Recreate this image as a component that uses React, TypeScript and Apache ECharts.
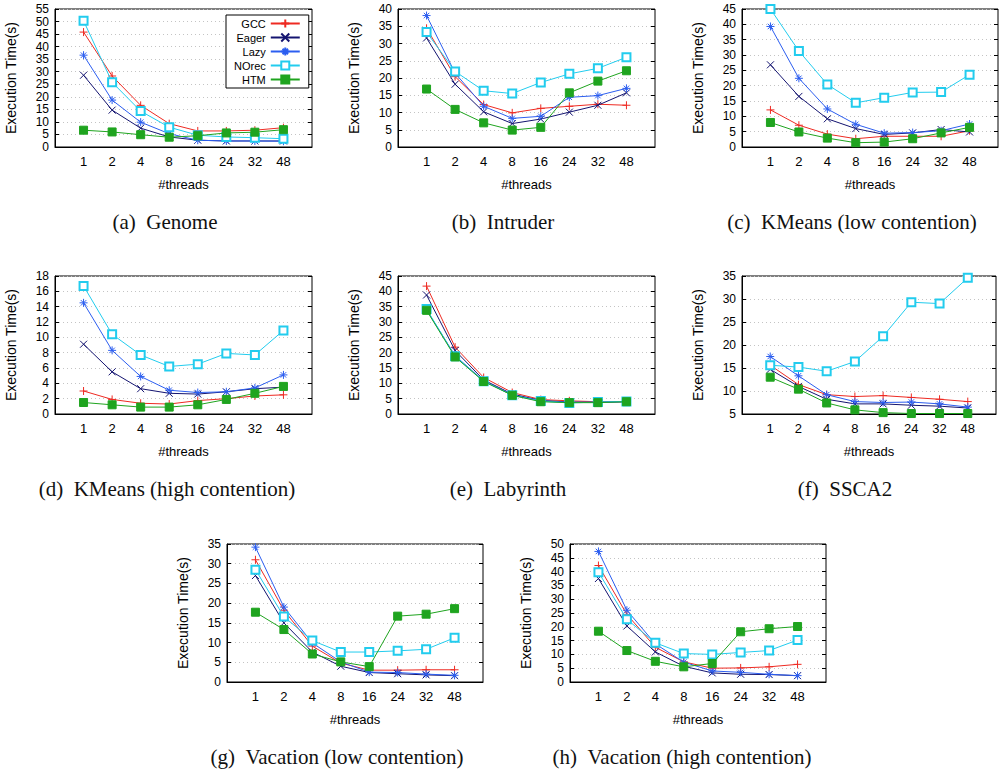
import React, { useEffect, useRef } from "react";
import * as echarts from "echarts";

const threads = ["1", "2", "4", "8", "16", "24", "32", "48"];
const seriesNames = ["GCC", "Eager", "Lazy", "NOrec", "HTM"];

// (a) Genome
const genomeGCC = [45.8, 28.3, 16.6, 9.3, 6.4, 6.4, 6.7, 7.7];
const genomeEager = [28.6, 14.7, 7.5, 4.0, 2.7, 2.4, 2.4, 2.4];
const genomeLazy = [36.6, 18.7, 9.9, 5.3, 2.7, 2.4, 2.4, 2.3];
const genomeNOrec = [50.3, 25.8, 14.3, 7.9, 4.7, 4.0, 3.7, 3.3];
const genomeHTM = [6.7, 6.0, 4.9, 3.9, 4.5, 5.6, 5.9, 6.9];

// (b) Intruder
const intruderGCC = [34.4, 20.4, 12.3, 9.9, 11.2, 11.8, 12.4, 12.1];
const intruderEager = [31.6, 18.2, 10.2, 6.8, 8.1, 10.1, 12.1, 15.7];
const intruderLazy = [38.1, 21.4, 11.8, 8.3, 8.9, 14.4, 14.9, 17.0];
const intruderNOrec = [33.3, 21.9, 16.3, 15.5, 18.7, 21.2, 22.8, 26.0];
const intruderHTM = [16.8, 10.9, 7.0, 4.9, 5.7, 15.7, 19.1, 22.1];

// (c) KMeans (low contention)
const kmLowGCC = [12.1, 7.1, 4.2, 2.7, 3.5, 3.5, 3.5, 5.3];
const kmLowEager = [26.8, 16.5, 9.2, 6.0, 4.1, 4.6, 5.7, 4.9];
const kmLowLazy = [39.3, 22.4, 12.4, 7.4, 4.5, 4.7, 5.3, 7.5];
const kmLowNOrec = [45.0, 31.3, 20.4, 14.4, 16.1, 17.8, 17.9, 23.6];
const kmLowHTM = [8.0, 4.9, 2.9, 1.4, 1.6, 2.7, 4.6, 6.4];

// (d) KMeans (high contention)
const kmHighGCC = [3.0, 1.9, 1.4, 1.3, 1.75, 2.0, 2.35, 2.5];
const kmHighEager = [9.1, 5.5, 3.3, 2.7, 2.6, 2.9, 3.3, 3.5];
const kmHighLazy = [14.5, 8.3, 4.9, 3.1, 2.8, 2.9, 3.4, 5.1];
const kmHighNOrec = [16.7, 10.4, 7.7, 6.2, 6.5, 7.9, 7.7, 10.9];
const kmHighHTM = [1.5, 1.2, 0.9, 0.9, 1.2, 1.9, 2.7, 3.6];

// (e) Labyrinth
const labGCC = [41.7, 21.8, 11.9, 7.0, 4.7, 4.3, 4.0, 4.0];
const labEager = [38.8, 20.7, 11.1, 6.5, 4.4, 3.9, 3.8, 4.0];
const labLazy = [34.0, 19.0, 10.8, 6.2, 4.3, 3.8, 3.8, 4.1];
const labNOrec = [34.2, 18.8, 10.7, 6.1, 4.2, 3.6, 3.9, 4.1];
const labHTM = [33.8, 18.6, 10.6, 6.1, 4.0, 3.7, 3.7, 4.0];

// (f) SSCA2
const sscaGCC = [15.6, 11.4, 9.2, 8.8, 9.0, 8.6, 8.2, 7.7];
const sscaEager = [14.7, 11.0, 8.2, 7.2, 7.2, 6.9, 6.7, 6.3];
const sscaLazy = [17.5, 13.3, 9.2, 7.7, 7.5, 7.6, 7.2, 6.5];
const sscaNOrec = [15.6, 15.2, 14.3, 16.4, 21.9, 29.3, 29.0, 34.6];
const sscaHTM = [13.0, 10.4, 7.4, 5.9, 5.3, 5.1, 5.1, 5.1];

// (g) Vacation (low contention)
const vacLowGCC = [31.0, 18.2, 9.1, 4.8, 3.0, 3.0, 3.1, 3.1];
const vacLowEager = [27.0, 15.0, 7.6, 4.0, 2.4, 2.1, 1.8, 1.6];
const vacLowLazy = [34.2, 19.0, 9.9, 5.1, 2.5, 2.4, 2.0, 1.7];
const vacLowNOrec = [28.5, 16.6, 10.5, 7.6, 7.6, 7.9, 8.3, 11.2];
const vacLowHTM = [17.7, 13.3, 7.1, 5.1, 3.9, 16.7, 17.2, 18.6];

// (h) Vacation (high contention)
const vacHighGCC = [42.2, 24.5, 12.6, 7.3, 5.0, 5.1, 5.5, 6.4];
const vacHighEager = [37.5, 20.3, 10.9, 5.7, 3.3, 2.8, 2.7, 2.3];
const vacHighLazy = [47.3, 26.0, 13.8, 7.2, 4.0, 3.5, 2.8, 2.3];
const vacHighNOrec = [39.8, 22.7, 14.2, 10.3, 10.0, 10.7, 11.4, 15.2];
const vacHighHTM = [18.4, 11.4, 7.5, 5.5, 6.7, 18.2, 19.3, 20.1];

const SANS = "Liberation Sans";
const SERIF = "Liberation Serif";

const colors = ["#ee2a22", "#141470", "#2c5ef0", "#22ccee", "#1fa41f"];
const symbols = [
  "path://M5,0L5,10M0,5L10,5",
  "path://M0,0L10,10M10,0L0,10",
  "path://M5,0L5,10M0,5L10,5M1.6,1.6L8.4,8.4M8.4,1.6L1.6,8.4",
  "emptyRect",
  "rect",
];
const symbolSizes = [8, 7, 8, 8, 8];

const panels = [
  { caption: "(a)\u2002Genome", data: [genomeGCC, genomeEager, genomeLazy, genomeNOrec, genomeHTM], min: 0, max: 55, interval: 5, left: 55, top: 9, width: 257, capX: 165, capY: 222 },
  { caption: "(b)\u2002Intruder", data: [intruderGCC, intruderEager, intruderLazy, intruderNOrec, intruderHTM], min: 0, max: 40, interval: 5, left: 398, top: 9, width: 257, capX: 503, capY: 222 },
  { caption: "(c)\u2002KMeans (low contention)", data: [kmLowGCC, kmLowEager, kmLowLazy, kmLowNOrec, kmLowHTM], min: 0, max: 45, interval: 5, left: 742, top: 9, width: 256, capX: 852, capY: 222 },
  { caption: "(d)\u2002KMeans (high contention)", data: [kmHighGCC, kmHighEager, kmHighLazy, kmHighNOrec, kmHighHTM], min: 0, max: 18, interval: 2, left: 55, top: 276, width: 257, capX: 167, capY: 489 },
  { caption: "(e)\u2002Labyrinth", data: [labGCC, labEager, labLazy, labNOrec, labHTM], min: 0, max: 45, interval: 5, left: 398, top: 276, width: 257, capX: 508, capY: 489 },
  { caption: "(f)\u2002SSCA2", data: [sscaGCC, sscaEager, sscaLazy, sscaNOrec, sscaHTM], min: 5, max: 35, interval: 5, left: 742, top: 276, width: 254, capX: 845, capY: 489 },
  { caption: "(g)\u2002Vacation (low contention)", data: [vacLowGCC, vacLowEager, vacLowLazy, vacLowNOrec, vacLowHTM], min: 0, max: 35, interval: 5, left: 227, top: 544, width: 256, capX: 337, capY: 757 },
  { caption: "(h)\u2002Vacation (high contention)", data: [vacHighGCC, vacHighEager, vacHighLazy, vacHighNOrec, vacHighHTM], min: 0, max: 50, interval: 5, left: 570, top: 544, width: 256, capX: 682, capY: 757 },
];

const PLOT_H = 138;

function buildOption() {
  const grid: any[] = [];
  const xAxis: any[] = [];
  const yAxis: any[] = [];
  const series: any[] = [];
  const graphic: any[] = [];

  panels.forEach((p, gi) => {
    grid.push({
      left: p.left,
      top: p.top,
      width: p.width,
      height: PLOT_H,
      show: true,
      borderColor: "#000",
      borderWidth: 1,
      backgroundColor: "transparent",
      outerBoundsMode: "none",
      containLabel: false,
    });
    xAxis.push({
      type: "value",
      gridIndex: gi,
      min: 0,
      max: threads.length + 1,
      interval: 1,
      name: "#threads",
      nameLocation: "middle",
      nameGap: 31,
      nameTextStyle: { fontFamily: SANS, fontSize: 13, color: "#000" },
      axisLine: { show: true, lineStyle: { color: "#000", width: 1 } },
      axisTick: { show: false },
      splitLine: { show: false },
      axisLabel: {
        margin: 8,
        fontFamily: SANS,
        fontSize: 13,
        color: "#000",
        formatter: (v: number) => threads[v - 1] ?? "",
      },
    });
    const yIdx = yAxis.length;
    yAxis.push({
      type: "value",
      gridIndex: gi,
      min: p.min,
      max: p.max,
      interval: p.interval,
      name: "Execution Time(s)",
      nameLocation: "middle",
      nameGap: 37,
      nameTextStyle: { fontFamily: SANS, fontSize: 14, color: "#000" },
      axisLine: { show: true, lineStyle: { color: "#000", width: 1 } },
      axisTick: { show: true, inside: true, length: 4, lineStyle: { color: "#000" } },
      splitLine: { show: true, lineStyle: { color: "#c4c4c4", type: [1, 3], width: 1 } },
      axisLabel: {
        margin: 6,
        fontFamily: SANS,
        fontSize: 12,
        lineHeight: 11,
        color: "#000",
        showMinLabel: true,
        showMaxLabel: true,
      },
    });
    yAxis.push({
      type: "value",
      gridIndex: gi,
      position: "right",
      min: p.min,
      max: p.max,
      interval: p.interval,
      axisLine: { show: false },
      axisTick: { show: true, inside: true, length: 4, lineStyle: { color: "#000" } },
      splitLine: { show: false },
      axisLabel: { show: false },
    });
    p.data.forEach((vals, si) => {
      series.push({
        type: "line",
        name: seriesNames[si],
        xAxisIndex: gi,
        yAxisIndex: yIdx,
        data: vals.map((v, i) => [i + 1, v]),
        symbol: symbols[si],
        symbolSize: symbolSizes[si],
        showAllSymbol: true,
        lineStyle: { color: colors[si], width: 1 },
        itemStyle: { color: colors[si], borderColor: colors[si], borderWidth: 1 },
        emphasis: { disabled: true },
        z: 2 + si,
      });
    });
    graphic.push({
      type: "text",
      x: p.capX,
      y: p.capY,
      style: {
        text: p.caption,
        fontFamily: SERIF,
        fontSize: 21,
        fill: "#111",
        align: "center",
        verticalAlign: "middle",
      },
    });
  });

  return {
    animation: false,
    backgroundColor: "#fff",
    grid,
    xAxis,
    yAxis,
    series,
    graphic,
    legend: {
      data: seriesNames,
      orient: "vertical",
      left: 226,
      top: 15,
      align: "right",
      itemWidth: 29,
      itemHeight: 10,
      itemGap: 3,
      padding: [3, 8, 3, 8],
      borderColor: "#000",
      borderWidth: 1,
      backgroundColor: "#fff",
      selectedMode: false,
      textStyle: { fontFamily: SANS, fontSize: 11, color: "#000", lineHeight: 10 },
      z: 10,
    },
  };
}

export default function App() {
  const ref = useRef<HTMLDivElement>(null);
  useEffect(() => {
    if (!ref.current) return;
    const chart = echarts.init(ref.current, undefined, { renderer: "svg" });
    chart.setOption(buildOption() as any);
    return () => chart.dispose();
  }, []);
  return (
    <div
      ref={ref}
      style={{ position: "absolute", left: 0, top: 0, width: 1002, height: 772, background: "#fff" }}
    />
  );
}
